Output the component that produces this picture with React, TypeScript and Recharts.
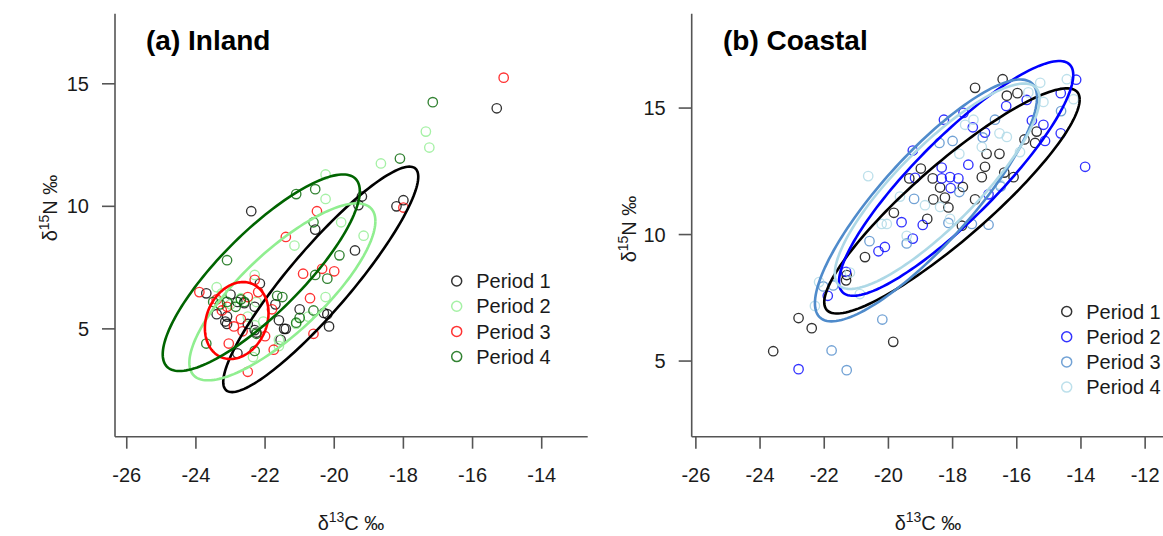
import React from "react";
import { ScatterChart, Scatter, XAxis, YAxis } from "recharts";

const FONT = "'Liberation Sans', Arial, Helvetica, sans-serif";

// ---- (a) Inland: d13C, d15N per period ----
const inlandP1 = [
  [-15.3, 14.0], [-22.4, 9.8], [-19.2, 10.4], [-19.3, 10.05], [-18.2, 10.0], [-18.0, 10.25],
  [-19.4, 8.2], [-20.55, 9.05], [-22.15, 6.85], [-23.7, 6.45], [-21.0, 5.8], [-20.3, 5.65],
  [-20.2, 5.6], [-20.15, 5.1], [-21.6, 5.35], [-21.45, 5.0], [-21.55, 4.55], [-21.7, 6.0],
  [-22.25, 4.85], [-22.8, 4.0], [-23.15, 5.3], [-23.1, 5.5], [-23.0, 6.4], [-22.8, 6.1],
  [-22.6, 6.05], [-22.3, 5.9], [-23.1, 5.2], [-22.5, 5.2], [-22.3, 4.95], [-21.4, 5.0], [-23.4, 5.6],
];
const inlandP2 = [
  [-17.35, 13.05], [-17.25, 12.4], [-18.65, 11.75], [-20.25, 11.3], [-20.25, 10.3], [-19.8, 9.35],
  [-19.15, 8.8], [-21.15, 8.4], [-22.3, 7.2], [-23.4, 6.7], [-20.25, 6.3], [-21.1, 5.2],
  [-21.6, 4.55], [-22.5, 5.5], [-22.3, 5.15], [-22.05, 5.3], [-22.25, 6.1], [-22.7, 6.25],
  [-23.0, 6.0], [-21.6, 4.3], [-22.35, 3.85], [-20.75, 5.5], [-23.25, 6.45],
];
const inlandP3 = [
  [-15.1, 15.25], [-18.0, 9.95], [-20.5, 9.8], [-21.4, 8.75], [-20.9, 7.25], [-20.35, 7.45],
  [-20.0, 7.35], [-20.7, 6.25], [-20.6, 4.8], [-22.3, 7.0], [-23.9, 6.5], [-23.4, 6.2],
  [-23.25, 5.75], [-22.9, 5.1], [-22.65, 4.9], [-22.0, 4.7], [-21.75, 4.15], [-23.05, 4.4],
  [-22.5, 3.25], [-22.5, 6.3], [-23.1, 5.9], [-22.7, 5.4], [-21.8, 5.8], [-22.2, 6.5],
];
const inlandP4 = [
  [-17.15, 14.25], [-18.1, 11.95], [-21.1, 10.5], [-20.55, 10.7], [-20.6, 9.35], [-23.1, 7.8],
  [-20.55, 7.2], [-20.2, 7.05], [-19.85, 8.0], [-20.6, 5.75], [-21.1, 5.25], [-21.65, 6.35],
  [-21.5, 6.3], [-22.3, 4.1], [-23.7, 4.4], [-22.25, 4.8], [-22.7, 6.2], [-22.6, 6.1],
  [-23.3, 6.0], [-23.1, 6.1], [-21.0, 5.45], [-22.85, 5.9], [-23.5, 6.1],
];
// standard ellipses: mean, half extent and correlation
const inlandEllipses = [
  { cx: -20.39, cy: 7.02, sx: 2.82, sy: 4.6, rho: 0.91 },
  { cx: -21.5, cy: 6.51, sx: 2.69, sy: 3.61, rho: 0.8 },
  { cx: -22.82, cy: 5.34, sx: 0.92, sy: 1.57, rho: 0.2 },
  { cx: -22.11, cy: 7.29, sx: 2.85, sy: 4.01, rho: 0.83 },
];

// ---- (b) Coastal ----
const coastalP1 = [
  [-23.59, 5.39], [-22.8, 6.7], [-22.39, 6.3], [-19.85, 5.76], [-21.32, 8.19], [-21.3, 8.4],
  [-20.73, 9.11], [-19.83, 10.86], [-18.79, 10.62], [-18.6, 11.39], [-18.13, 11.07], [-18.24, 11.46],
  [-18.99, 12.61], [-19.35, 12.22], [-18.62, 12.22], [-18.39, 11.86], [-17.68, 11.88], [-17.71, 10.35],
  [-17.3, 11.39], [-17.09, 12.27], [-16.99, 12.68], [-16.94, 13.19], [-16.54, 13.19], [-16.39, 12.45],
  [-17.3, 15.8], [-16.44, 16.14], [-16.31, 15.49], [-15.98, 15.59], [-15.76, 13.76], [-15.38, 14.07],
  [-15.43, 13.62], [-16.1, 12.27],
];
const coastalP2 = [
  [-22.8, 4.68], [-13.87, 12.68], [-21.89, 7.58], [-21.32, 8.53], [-20.31, 9.34], [-20.11, 9.51],
  [-19.59, 10.49], [-19.24, 9.84], [-18.93, 10.38], [-19.24, 13.32], [-19.17, 12.24], [-18.27, 14.54],
  [-18.34, 12.65], [-18.34, 12.22], [-18.08, 12.27], [-17.82, 12.22], [-18.06, 11.84], [-17.51, 12.76],
  [-17.37, 14.24], [-16.99, 14.03], [-16.33, 15.08], [-15.69, 15.32], [-15.53, 14.51], [-15.17, 14.34],
  [-15.12, 13.7], [-14.63, 15.59], [-14.63, 14.0], [-14.15, 16.12], [-16.88, 11.59], [-17.66, 14.81],
];
const coastalP3 = [
  [-21.77, 5.42], [-21.3, 4.64], [-20.19, 6.64], [-16.88, 10.39], [-20.59, 9.74], [-19.43, 9.65],
  [-19.2, 11.41], [-18.41, 13.62], [-18.13, 10.46], [-17.79, 11.68], [-17.06, 13.84], [-16.68, 14.54],
  [-14.62, 14.88], [-22.03, 7.95], [-21.72, 7.99], [-18.0, 13.7], [-17.4, 10.42], [-16.5, 11.9],
];
const coastalP4 = [
  [-20.63, 12.31], [-22.29, 7.18], [-22.16, 8.12], [-20.89, 7.65], [-21.2, 8.5], [-20.21, 10.42],
  [-20.05, 10.42], [-19.64, 11.5], [-18.86, 11.16], [-18.39, 11.09], [-17.79, 13.19], [-17.61, 14.34],
  [-17.35, 14.54], [-16.54, 14.0], [-16.31, 13.86], [-15.9, 13.26], [-15.64, 15.62], [-15.27, 16.0],
  [-15.17, 15.24], [-14.44, 16.14], [-14.23, 15.35], [-16.52, 11.97], [-19.43, 9.95], [-17.09, 13.46],
  [-18.08, 10.62],
];
const coastalEllipses = [
  { cx: -18.02, cy: 11.33, sx: 3.98, sy: 4.45, rho: 0.9 },
  { cx: -17.89, cy: 12.22, sx: 3.65, sy: 4.64, rho: 0.88 },
  { cx: -18.83, cy: 11.35, sx: 3.46, sy: 4.78, rho: 0.85 },
  { cx: -18.48, cy: 11.91, sx: 3.19, sy: 4.06, rho: 0.85 },
];

const periods = ["Period 1", "Period 2", "Period 3", "Period 4"];
const inlandColors = ["#000000", "#90EE90", "#FF0000", "#006400"];
const coastalColors = ["#000000", "#0000FF", "#4F8BCB", "#ADD8E6"];

const toPts = (arr: number[][]) => arr.map(([x, y]) => ({ x, y }));

function ellipsePoints(e: { cx: number; cy: number; sx: number; sy: number; rho: number }) {
  const phi = Math.acos(e.rho);
  const pts = [];
  for (let i = 0; i <= 160; i++) {
    const t = (i / 160) * 2 * Math.PI;
    pts.push({ x: e.cx + e.sx * Math.cos(t), y: e.cy + e.sy * Math.cos(t - phi) });
  }
  return pts;
}

const ring = (color: string) => (p: any) =>
  <circle cx={p.cx} cy={p.cy} r={4.7} fill="none" stroke={color} strokeWidth={1.35} strokeOpacity={0.8} />;

const axisStroke = { stroke: "#555", strokeWidth: 1.6 };

type PanelProps = {
  series: number[][][];
  ellipses: { cx: number; cy: number; sx: number; sy: number; rho: number }[];
  colors: string[];
  xDomain: number[];
  yDomain: number[];
  xTicks: number[];
  marginLeft: number;
  marginRight: number;
};

function Panel({ series, ellipses, colors, xDomain, yDomain, xTicks, marginLeft, marginRight }: PanelProps) {
  return (
    <ScatterChart width={600} height={536} margin={{ top: 13.7, right: marginRight, bottom: 39.3, left: marginLeft }}>
      <XAxis
        type="number"
        dataKey="x"
        domain={xDomain}
        ticks={xTicks}
        interval={0}
        allowDataOverflow
        height={60}
        tickSize={12}
        tickMargin={19}
        axisLine={axisStroke}
        tickLine={axisStroke}
        tick={{ fill: "#1a1a1a", fontSize: 20, fontFamily: FONT }}
      />
      <YAxis
        type="number"
        dataKey="y"
        domain={yDomain}
        ticks={[5, 10, 15]}
        interval={0}
        allowDataOverflow
        width={60}
        tickSize={13}
        tickMargin={13}
        axisLine={axisStroke}
        tickLine={axisStroke}
        tick={{ fill: "#1a1a1a", fontSize: 20, fontFamily: FONT }}
      />
      {series.map((s, i) => (
        <Scatter key={"p" + i} data={toPts(s)} shape={ring(colors[i])} isAnimationActive={false} />
      ))}
      {ellipses.map((e, i) => (
        <Scatter
          key={"e" + i}
          data={ellipsePoints(e)}
          line={{ stroke: colors[i], strokeWidth: 2.6, fill: "none" }}
          shape={() => <g />}
          legendType="none"
          isAnimationActive={false}
        />
      ))}
    </ScatterChart>
  );
}

function LegendBox({ x, y, colors }: { x: number; y: number; colors: string[] }) {
  return (
    <g>
      {periods.map((p, i) => (
        <g key={p}>
          <circle cx={x} cy={y + i * 25.2} r={5} fill="none" stroke={colors[i]} strokeWidth={1.5} strokeOpacity={0.8} />
          <text x={x + 19.5} y={y + i * 25.2} dy="0.36em" fontSize={20} fontFamily={FONT} fill="#1a1a1a">
            {p}
          </text>
        </g>
      ))}
    </g>
  );
}

function AxisTitles({ cx, ly, lcy }: { cx: number; ly: number; lcy: number }) {
  return (
    <g fontFamily={FONT} fill="#1a1a1a">
      <text x={cx} y={530} fontSize={20} textAnchor="middle">
        δ<tspan fontSize={14} dy={-8}>13</tspan><tspan dy={8}>C ‰</tspan>
      </text>
      <text transform={`translate(${ly},${lcy}) rotate(-90)`} fontSize={20} textAnchor="middle">
        δ<tspan fontSize={14} dy={-8}>15</tspan><tspan dy={8}>N ‰</tspan>
      </text>
    </g>
  );
}

export default function App() {
  return (
    <div style={{ position: "absolute", left: 0, top: 0, width: 1163, height: 536, overflow: "hidden", background: "#fff" }}>
      <div style={{ position: "absolute", left: 0, top: 0 }}>
        <Panel
          series={[inlandP1, inlandP2, inlandP3, inlandP4]}
          ellipses={inlandEllipses}
          colors={inlandColors}
          xDomain={[-26.34, -12.67]}
          yDomain={[0.6, 17.86]}
          xTicks={[-26, -24, -22, -20, -18, -16, -14]}
          marginLeft={55}
          marginRight={12.3}
        />
      </div>
      <div style={{ position: "absolute", left: 580, top: 0 }}>
        <Panel
          series={[coastalP1, coastalP2, coastalP3, coastalP4]}
          ellipses={coastalEllipses}
          colors={coastalColors}
          xDomain={[-26.13, -11.4]}
          yDomain={[2.01, 18.73]}
          xTicks={[-26, -24, -22, -20, -18, -16, -14, -12]}
          marginLeft={51.7}
          marginRight={15.6}
        />
      </div>
      <svg width={1163} height={536} style={{ position: "absolute", left: 0, top: 0, pointerEvents: "none" }}>
        <text x={146} y={50} fontSize={28} fontWeight="bold" fontFamily={FONT} fill="#000">(a) Inland</text>
        <text x={723} y={50} fontSize={28} fontWeight="bold" fontFamily={FONT} fill="#000">(b) Coastal</text>
        <LegendBox x={456.7} y={281} colors={inlandColors} />
        <LegendBox x={1066.7} y={311.5} colors={coastalColors} />
        <AxisTitles cx={351} ly={57} lcy={208} />
        <AxisTitles cx={928} ly={636} lcy={229} />
      </svg>
    </div>
  );
}
